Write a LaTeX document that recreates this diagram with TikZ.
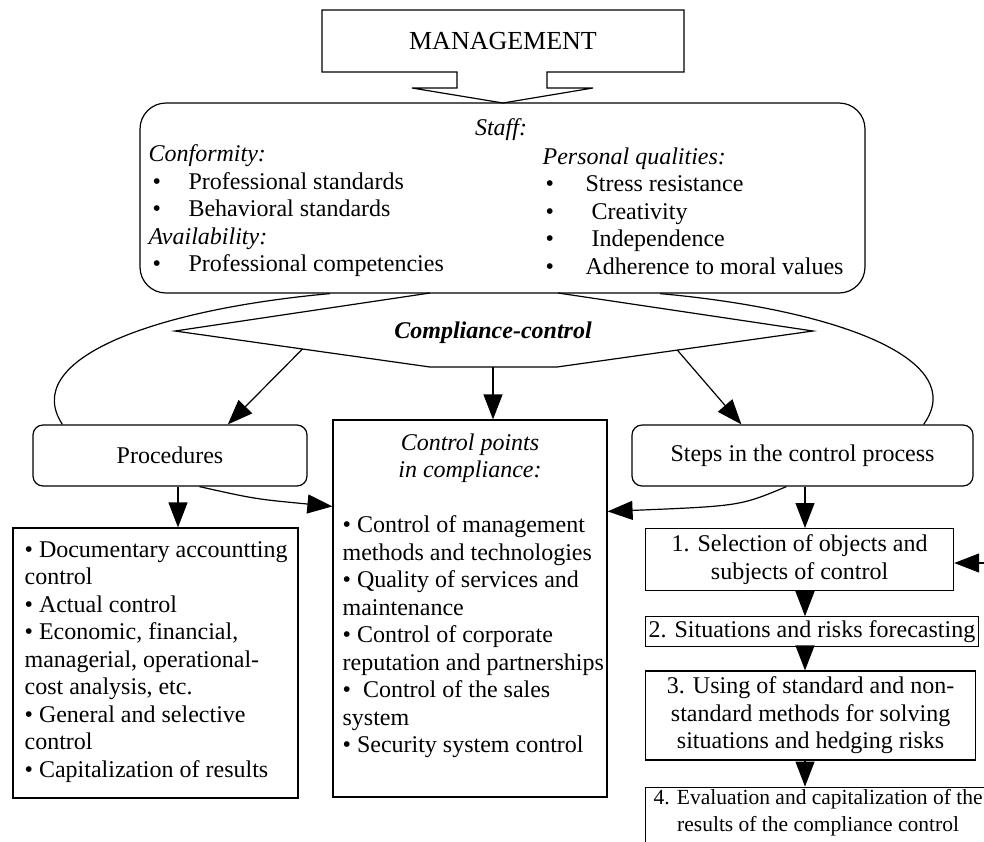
\documentclass[tikz,border=0pt]{standalone}
\usepackage{fontspec}
\setmainfont{Liberation Serif}
\usepackage{tikz}
\usetikzlibrary{shapes,arrows.meta}
\usetikzlibrary{calc,positioning}
\tikzstyle{roundbox} = [draw, rounded corners=10pt, minimum width=274pt,
minimum height=61pt, inner sep=0pt]
\tikzstyle{plainbox} = [draw, inner sep=0pt]
\tikzstyle{stepbox} = [draw, align=center, inner xsep=3pt, inner ysep=2pt]
\tikzstyle{listtext} = [align=left, inner sep=0pt, anchor=west]
\tikzstyle{line} = [draw, -{Triangle[length=25pt,width=19pt]}]

\begin{document}
\begin{tikzpicture}[x=1pt, y=-1pt, line width=1.2pt,
  font=\fontsize{24}{27.5}\selectfont]
	\useasboundingbox (0,0) rectangle (984,841);
	\clip (0,0) rectangle (984,841);
	% Management block arrow
	\draw (322,10) -- (684,10) -- (684,72) -- (547,72) -- (547,88) -- (593,88)
	  -- (503,103) -- (412,88) -- (457,88) -- (457,72) -- (322,72) -- cycle;
	\node (mgmt) at (503,41) {\fontsize{26}{30}\selectfont MANAGEMENT};
	
	% Staff
	\node [roundbox, rounded corners=26pt, minimum width=725pt,
	  minimum height=190pt] (staff) at (502.5,198) {};
	\node (stafftitle) at (501,130) {\textit{Staff:}};
	\node [listtext] (conform) at (148,211) {\textit{Conformity:}\\
	  \hspace*{4pt}\makebox[36pt][l]{\textbullet}Professional standards\\
	  \hspace*{4pt}\makebox[36pt][l]{\textbullet}Behavioral standards\\
	  \textit{Availability:}\\
	  \hspace*{4pt}\makebox[36pt][l]{\textbullet}Professional competencies};
	\node [listtext] (personal) at (542,211) {\textit{Personal qualities:}\\
	  \hspace*{3pt}\makebox[40pt][l]{\textbullet}Stress resistance\\
	  \hspace*{3pt}\makebox[40pt][l]{\textbullet}\ Creativity\\
	  \hspace*{3pt}\makebox[40pt][l]{\textbullet}\ Independence\\
	  \hspace*{3pt}\makebox[40pt][l]{\textbullet}Adherence to moral values};
	
	% Compliance-control
	\coordinate (dtl) at (430,293);
	\coordinate (dtr) at (558,293);
	\coordinate (dl) at (175,331);
	\coordinate (dr) at (813,331);
	\coordinate (dbl) at (430,367);
	\coordinate (dbr) at (557,367);
	\draw (dtl) -- (dl) -- (dbl) -- (dbr) -- (dr) -- (dtr);
	\node (cc) at (493,333) {\textbf{\textit{Compliance-control}}};
	
	% Middle row
	\node [roundbox] (proc) at (170,455.5) {Procedures};
	\node [roundbox, minimum width=341pt] (steps) at (802.5,455.5)
	  {Steps in the control process};
	\node [plainbox, minimum width=274pt, minimum height=377pt] (ctrl)
	  at (470,608.5) {};
	\node [align=center] (ctrlhead) at (470,458)
	  {\textit{Control points}\\\textit{in compliance:}};
	\node [listtext] (ctrllist) at (342,637) {\textbullet{} Control of management\\
	  methods and technologies\\
	  \textbullet{} Quality of services and\\
	  maintenance\\
	  \textbullet{} Control of corporate\\
	  reputation and partnerships\\
	  \textbullet\ \ Control of the sales\\
	  system\\
	  \textbullet{} Security system control};
	
	% Procedures list
	\node [plainbox, minimum width=285pt, minimum height=270pt] (doc)
	  at (155.5,663) {};
	\node [listtext] (doclist) at (24,662) {\textbullet{} Documentary accountting\\
	  control\\
	  \textbullet{} Actual control\\
	  \textbullet{} Economic, financial,\\
	  managerial, operational-\\
	  cost analysis, etc.\\
	  \textbullet{} General and selective\\
	  control\\
	  \textbullet{} Capitalization of results};
	
	% Steps
	\node [stepbox, minimum width=308pt, minimum height=62pt, anchor=north west]
	  (s1) at (645,528) {1. Selection of objects and\\subjects of control};
	\node [stepbox, minimum width=322pt, minimum height=30pt,
	  below right=25pt and 0pt of s1.south west] (s2)
	  {2. Situations and risks forecasting};
	\node [stepbox, minimum width=330pt, minimum height=89pt,
	  below right=23pt and 0pt of s2.south west] (s3)
	  {3. Using of standard and non-\\standard methods for solving\\situations and hedging risks};
	\node [stepbox, minimum width=345pt, text depth=30pt,
	  font=\fontsize{21.5}{27.5}\selectfont,
	  below right=26pt and 0pt of s3.south west] (s4)
	  {4. Evaluation and capitalization of the\\results of the compliance control};
	
	\coordinate (arcl) at (330,0);
	\coordinate (arcr) at (660,0);
	\coordinate (pcol) at (178,0);
	\coordinate (scol) at (805,0);
	\coordinate (fb) at (1000,563);
	
	\draw (staff.south -| arcl) .. controls (150,310) and (20,360)
	  .. ($(proc.north west)+(30,0)$);
	\draw (staff.south -| arcr) .. controls (840,310) and (970,360)
	  .. ($(steps.north east)+(-50,0)$);
	
	\path [line] ($(dl)!.5!(dbl)$) -- ($(proc.north west)!.71!(proc.north east)$);
	\path [line] (cc |- dbl) -- (cc |- ctrl.north);
	\path [line] ($(dbr)!.47!(dr)$) -- ($(steps.north west)+(110,0)$);
	\path [line] (proc.south -| pcol) -- (doc.north -| pcol);
	\path [line] ($(proc.south west)+(167,0)$) .. controls (255,499)
	  .. ($(ctrl.north west)+(0,87)$);
	\path [line] ($(steps.south west)+(155,0)$) .. controls (740,506)
	  .. ($(ctrl.north east)+(0,92)$);
	\path [line] (steps.south -| scol) -- (s1.north -| scol);
	\path [line] (s1.south -| scol) -- (s2.north -| scol);
	\path [line] (s2.south -| scol) -- (s3.north -| scol);
	\path [line] (s3.south -| scol) -- (s4.north -| scol);
	\path [line] (fb) -- (fb -| s1.east);
	
\end{tikzpicture}
\end{document}
